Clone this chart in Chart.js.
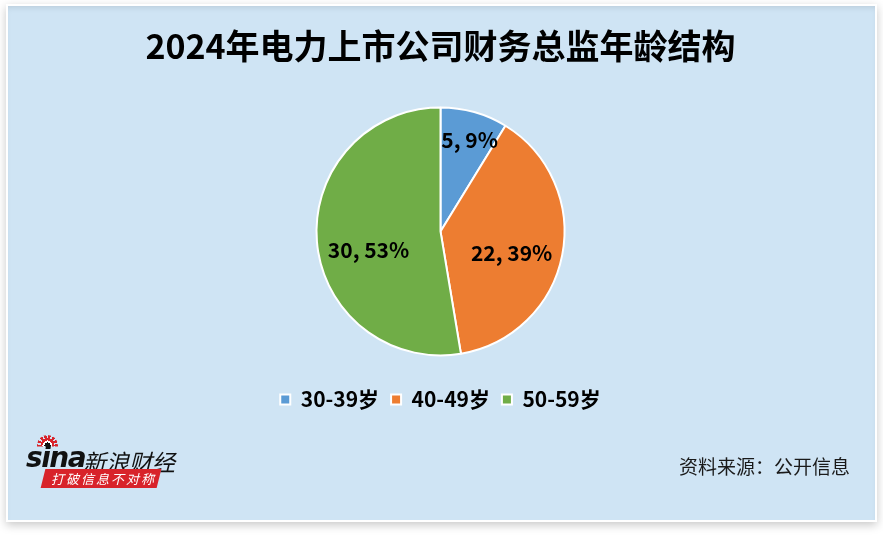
<!DOCTYPE html>
<html>
<head>
<meta charset="UTF-8">
<title>2024年电力上市公司财务总监年龄结构</title>
<script src="https://cdn.jsdelivr.net/npm/chart.js@4.4.1/dist/chart.umd.min.js"></script>
<style>
body { margin: 0; background: #ffffff; font-family: "Noto Sans CJK SC", sans-serif; }
#frame { position: absolute; left: 6px; top: 4px; width: 871px; height: 518px; background: #ffffff;
  box-shadow: 0 3px 9px rgba(0,0,0,0.22); }
#panel { position: absolute; left: 2px; top: 2px; right: 2px; bottom: 2px; background: #cfe4f4;
  box-shadow: inset 0 4px 6px -3px rgba(0,0,0,0.12); }
#box { position: absolute; left: 0; top: 0; width: 883px; height: 538px; }
#source { position: absolute; left: 679px; top: 452px; font-size: 19px; color: #1a1a1a; }
#logo { position: absolute; left: 26px; top: 434px; width: 150px; height: 60px; }
#logo .sina { position: absolute; left: 0; top: 7px; font: italic bold 28px "DejaVu Sans", sans-serif; letter-spacing: -1.5px; color: #111; }
#logo .eye { position: absolute; left: 11px; top: 1px; width: 21px; height: 21px; border-radius: 50%;
  background: radial-gradient(circle, #111 0 3px, #fff 3px 5px, #d8232a 5px 7px, transparent 7px),
              repeating-conic-gradient(from -100deg, #d8232a 0 16deg, transparent 16deg 26deg);
  clip-path: inset(0 0 45% 0); }
#logo .name { position: absolute; left: 57px; top: 10px; font-size: 23px; color: #111; font-style: italic; }
#logo .tag { position: absolute; left: 17px; top: 35px; width: 116px; height: 19px; background: #d8232a;
  transform: skewX(-14deg); }
#logo .tag span { position: absolute; left: 8px; top: 0px; font-size: 13px; color: #fff; font-style: italic; letter-spacing: 2px; transform: skewX(14deg); }
</style>
</head>
<body>
<div id="frame"><div id="panel"></div></div>
<div id="box"><canvas id="chart"></canvas></div>
<div id="logo">
  <div class="eye"></div>
  <div class="sina">sina</div>
  <div class="name">新浪财经</div>
  <div class="tag"><span>打破信息不对称</span></div>
</div>
<div id="source">资料来源：公开信息</div>
<script>
// data
var ageGroups = ['30-39岁', '40-49岁', '50-59岁'];
var cfoCounts = [5, 22, 30];
var sliceColors = ['#5b9bd5', '#ed7d31', '#70ad47'];

var total = cfoCounts.reduce(function (a, b) { return a + b; }, 0);

// value + percent label inside each slice
var sliceLabels = {
  id: 'sliceLabels',
  afterDatasetsDraw: function (chart, args, opts) {
    var ctx = chart.ctx;
    var meta = chart.getDatasetMeta(0);
    ctx.save();
    ctx.font = opts.font;
    ctx.fillStyle = '#000';
    ctx.textAlign = 'center';
    ctx.textBaseline = 'middle';
    meta.data.forEach(function (arc, i) {
      var p = arc.getProps(['x', 'y', 'startAngle', 'endAngle', 'outerRadius']);
      var a = (p.startAngle + p.endAngle) / 2 + opts.shift[i] * Math.PI / 180;
      var r = p.outerRadius * opts.dist[i];
      var v = cfoCounts[i];
      var txt = v + ', ' + Math.round(v / total * 100) + '%';
      ctx.fillText(txt, p.x + Math.cos(a) * r, p.y + Math.sin(a) * r);
    });
    ctx.restore();
  }
};

new Chart(document.getElementById('chart'), {
  type: 'pie',
  data: {
    labels: ageGroups,
    datasets: [{
      data: cfoCounts,
      backgroundColor: sliceColors,
      borderColor: '#ffffff',
      borderWidth: 2
    }]
  },
  options: {
    responsive: true,
    maintainAspectRatio: false,
    animation: false,
    radius: 124,
    layout: { padding: { left: 0, right: 2, top: 0, bottom: 118 } },
    plugins: {
      title: {
        display: true,
        text: '2024年电力上市公司财务总监年龄结构',
        color: '#000',
        font: { family: 'Noto Sans CJK SC', size: 34, weight: 'bold' },
        padding: { top: 26, bottom: 19 }
      },
      legend: {
        position: 'bottom',
        labels: {
          color: '#000',
          boxWidth: 10,
          boxHeight: 10,
          padding: 12,
          font: { family: 'Noto Sans CJK SC', size: 21, weight: 'bold' }
        }
      },
      tooltip: { enabled: false },
      sliceLabels: {
        font: 'bold 21px "Noto Sans CJK SC"',
        dist: [0.77, 0.6, 0.6],
        shift: [2, 6, -10]
      }
    }
  },
  plugins: [sliceLabels]
});
</script>
</body>
</html>
